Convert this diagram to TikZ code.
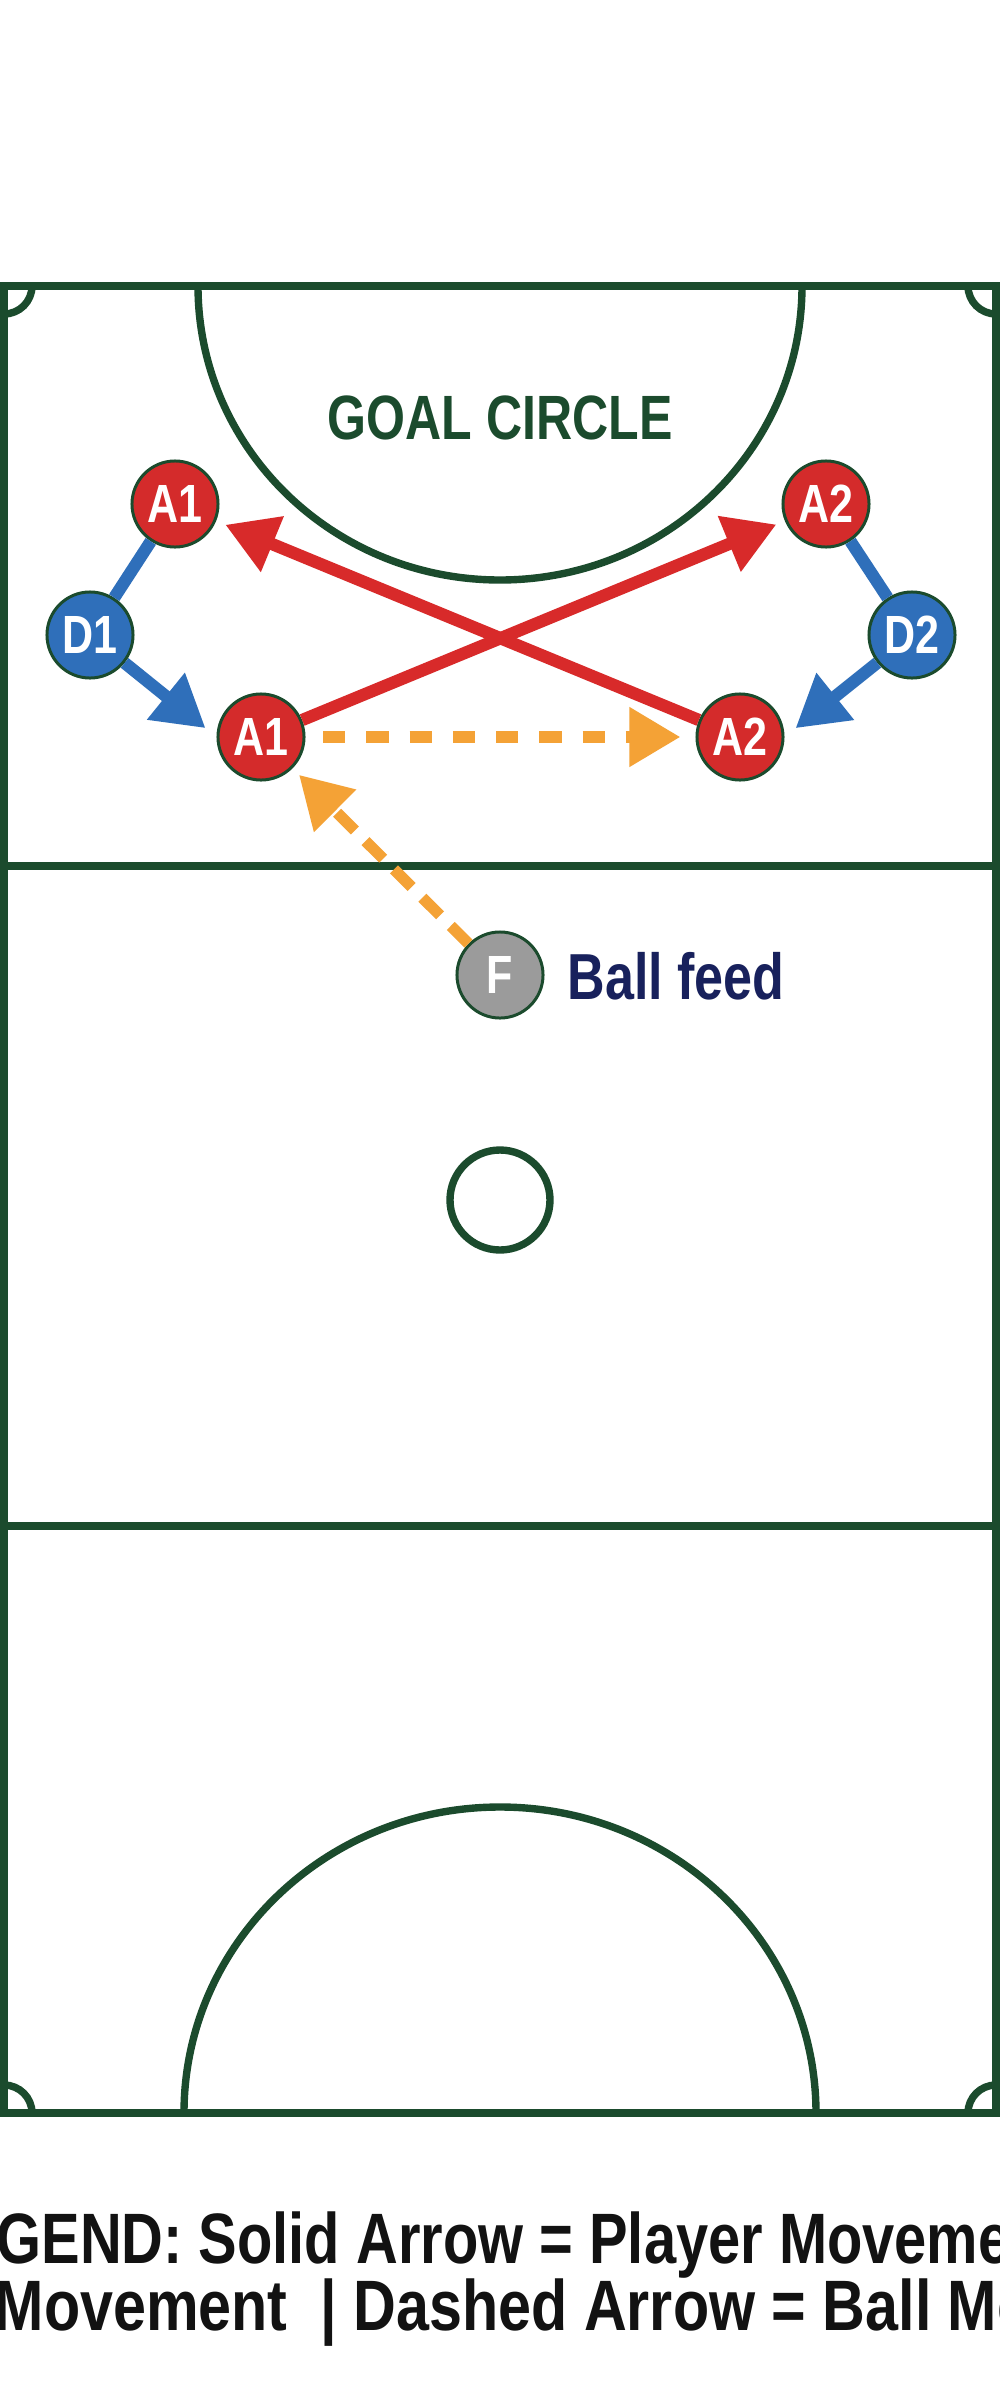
\documentclass[tikz,border=0pt]{standalone}
\usepackage{fontspec}
\newfontfamily\condfont{Liberation Sans}[FakeStretch=0.8]
\newfontfamily\legendfont{Liberation Sans}[FakeStretch=0.81]
\newfontfamily\legendwidefont{Liberation Sans}[FakeStretch=0.83]
\usetikzlibrary{arrows.meta}

\definecolor{courtgreen}{HTML}{1B4B2D}
\definecolor{playerred}{HTML}{D42B2B}
\definecolor{runred}{HTML}{D82A2A}
\definecolor{defblue}{HTML}{2F6FBA}
\definecolor{ballorange}{HTML}{F4A236}
\definecolor{feedgray}{HTML}{9B9B9B}
\definecolor{feednavy}{HTML}{18215C}

\begin{document}
\begin{tikzpicture}[x=0.01cm,y=-0.01cm,
    court/.style={draw=courtgreen,line width=2.1pt},
    player/.style={draw=courtgreen,circle,minimum size=0.86cm,inner sep=0pt,line width=0.85pt,text=white,font={\condfont\bfseries\fontsize{15.3}{16}\selectfont}},
    attacker/.style={player,fill=playerred},
    defender/.style={player,fill=defblue},
    feeder/.style={player,fill=feedgray},
    run/.style={line width=3.5pt,-{Triangle[length=14.5pt,width=16.2pt]}},
    pass/.style={line width=3.2pt,ballorange,-{Triangle[length=14.5pt,width=16.2pt]}},
    legend/.style={anchor=base west,inner sep=0pt,text=black!93,font={\legendfont\bfseries\fontsize{20.3}{22}\selectfont}},
]
    \clip (0,0) rectangle (1000,2400);
    \fill [white] (0,0) rectangle (1000,2400);

    % court
    \draw [court] (4,286) rectangle (996,2113);
    \draw [court] (4,866) -- (996,866);
    \draw [court] (4,1526) -- (996,1526);
    \draw [court] (198,286) arc [start angle=180,end angle=0,x radius=302,y radius=294];
    \draw [court] (184,2113) arc [start angle=180,end angle=360,x radius=316,y radius=306];
    \draw [court] (500,1200) circle [radius=50];
    \draw [court] (32,286) arc [start angle=0,end angle=90,radius=28];
    \draw [court] (968,286) arc [start angle=180,end angle=90,radius=28];
    \draw [court] (32,2113) arc [start angle=0,end angle=-90,radius=28];
    \draw [court] (968,2113) arc [start angle=180,end angle=270,radius=28];

    \node [anchor=base,text=courtgreen,font={\condfont\bfseries\fontsize{17.8}{19}\selectfont}] (goaltext) at (500,439) {GOAL CIRCLE};

    % players
    \node [attacker] (a1top) at (175,504) {A1};
    \path (a1top) ++(651,0) node [attacker] (a2top) {A2};
    \path (a1top) ++(-85,131) node [defender] (d1) {D1};
    \path (a2top) ++(86,131) node [defender] (d2) {D2};
    \path (a1top) ++(86,233) node [attacker] (a1bot) {A1};
    \path (a2top) ++(-86,233) node [attacker] (a2bot) {A2};
    \node [feeder] (feed) at (500,975) {F};
    \path (feed) ++(67,24) node [anchor=base west,inner sep=0pt,text=feednavy,font={\condfont\bfseries\fontsize{18.5}{20}\selectfont}] (feedlabel) {Ball feed};

    % player movement
    \draw [line width=3.5pt,defblue] (a1top) -- (d1);
    \draw [run,defblue,shorten >=4pt] (d1) -- (a1bot.west);
    \draw [line width=3.5pt,defblue] (a2top) -- (d2);
    \draw [run,defblue,shorten >=4pt] (d2) -- (a2bot.east);
    \draw [run,runred,shorten >=2.6pt] (a1bot) -- (a2top);
    \draw [run,runred,shorten >=2.8pt] (a2bot) -- (a1top);

    % ball movement
    \draw [pass,dash pattern=on 6.3pt off 6pt,shorten <=5pt,shorten >=4.3pt] (a1bot) -- (a2bot);
    \draw [pass,dash pattern=on 7.1pt off 4.3pt,shorten >=2.6pt] (feed) -- (a1bot);

    % legend
    \node [legend] (legendtop) at (-78,2263) {LEGEND: Solid Arrow = Player Movement};
    \node [legend,font={\legendwidefont\bfseries\fontsize{20.3}{22}\selectfont}] (legendbot) at (-6,2330) {Movement\ \ | Dashed Arrow = Ball Movement};
\end{tikzpicture}
\end{document}
